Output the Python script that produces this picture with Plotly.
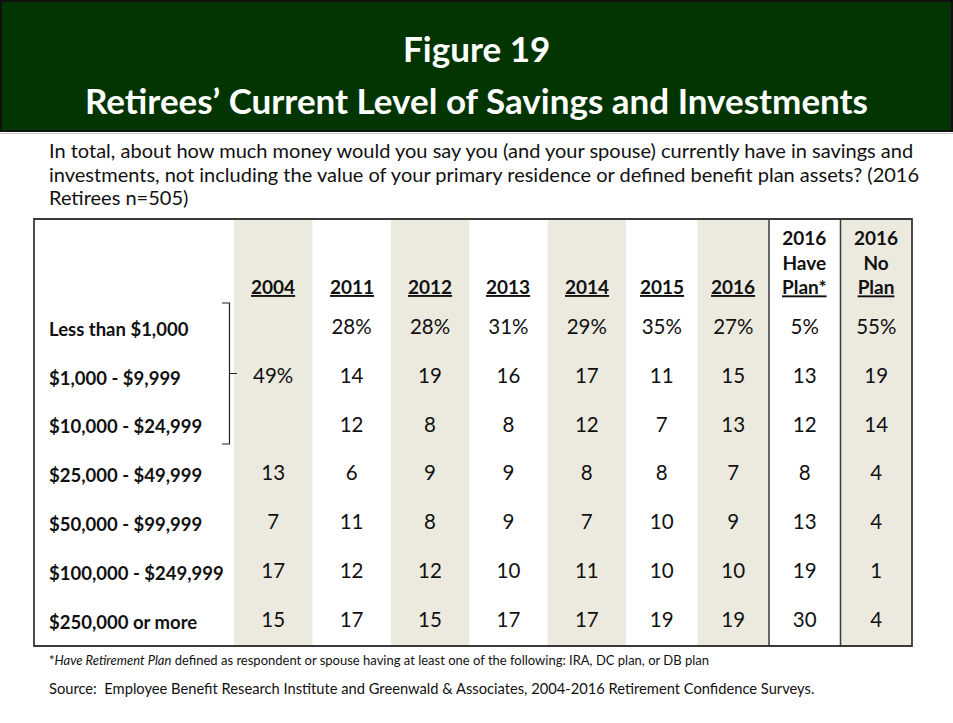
import plotly.graph_objects as go

W, H = 953, 723

rows = ["Less than $1,000", "$1,000 - $9,999", "$10,000 - $24,999",
        "$25,000 - $49,999", "$50,000 - $99,999", "$100,000 - $249,999",
        "$250,000 or more"]

cols_a = ["2004", "2011", "2012", "2013", "2014"]
cols_b = ["2015", "2016", "2016 Have Plan*", "2016 No Plan"]

v2004 = [None, 49, None, 13, 7, 17, 15]
v2011 = [28, 14, 12, 6, 11, 12, 17]
v2012 = [28, 19, 8, 9, 8, 12, 15]
v2013 = [31, 16, 8, 9, 9, 10, 17]
v2014 = [29, 17, 12, 8, 7, 11, 17]
v2015 = [35, 11, 7, 8, 10, 10, 19]
v2016 = [27, 15, 13, 7, 9, 10, 19]
v2016_have = [5, 13, 12, 8, 13, 19, 30]
v2016_no = [55, 19, 14, 4, 4, 1, 4]

values = {"2004": v2004, "2011": v2011, "2012": v2012, "2013": v2013,
          "2014": v2014, "2015": v2015, "2016": v2016,
          "2016 Have Plan*": v2016_have, "2016 No Plan": v2016_no}

header_labels = {"2004": "<b><u>2004</u></b>", "2011": "<b><u>2011</u></b>",
                 "2012": "<b><u>2012</u></b>", "2013": "<b><u>2013</u></b>",
                 "2014": "<b><u>2014</u></b>", "2015": "<b><u>2015</u></b>",
                 "2016": "<b><u>2016</u></b>",
                 "2016 Have Plan*": "<b>2016<br>Have<br><u>Plan*</u></b>",
                 "2016 No Plan": "<b>2016<br>No<br><u>Plan</u></b>"}

shaded = ["2004", "2012", "2014", "2016", "2016 No Plan"]

subtitle_lines = [
    "In total, about how much money would you say you (and your spouse) currently have in savings and",
    "investments, not including the value of your primary residence or defined benefit plan assets? (2016",
    "Retirees n=505)",
]

FONT = "Lato"
SHADE = "#ECE9DF"
BORDER = "#3a3a3a"
INK = "#111111"


def px(x):
    return x / W


def py(y):
    return 1 - y / H


def fmt(vals):
    out = []
    first = True
    for v in vals:
        if v is None:
            out.append("")
        else:
            out.append(f"{v}%" if first else f"{v}")
            first = False
    return out


def axis_of(c):
    # (axis name, category index on that axis)
    if c in cols_a:
        return "x", cols_a.index(c)
    return "x2", cols_b.index(c)


fig = go.Figure()

for c in cols_a + cols_b:
    xa, _ = axis_of(c)
    fig.add_trace(go.Scatter(
        x=[c] * len(rows), y=rows, text=fmt(values[c]), mode="text",
        textposition="middle center", xaxis=xa, yaxis="y",
        textfont=dict(family=FONT, size=20.5, color=INK),
        hoverinfo="skip", showlegend=False))

shapes = []
# green title banner
shapes.append(dict(type="rect", xref="paper", yref="paper",
                   x0=px(1), x1=px(952), y0=py(131), y1=py(1),
                   fillcolor="#033503", line=dict(color="#111111", width=2),
                   layer="below"))
shapes.append(dict(type="line", xref="paper", yref="paper",
                   x0=0, x1=1, y0=py(133.5), y1=py(133.5),
                   line=dict(color="#c4c4c4", width=1)))

# shaded columns
for c in shaded:
    xa, i = axis_of(c)
    shapes.append(dict(type="rect", xref=xa, yref="y domain",
                       x0=i - 0.5, x1=i + 0.5, y0=0, y1=1,
                       fillcolor=SHADE, line=dict(width=0), layer="below"))

# vertical separators
for c in ["2016 Have Plan*", "2016 No Plan"]:
    xa, i = axis_of(c)
    shapes.append(dict(type="line", xref=xa, yref="y domain",
                       x0=i - 0.5, x1=i - 0.5, y0=0, y1=1,
                       line=dict(color=BORDER, width=1.5)))

# outer border
shapes.append(dict(type="rect", xref="paper", yref="y domain",
                   x0=px(34), x1=px(912), y0=0, y1=1,
                   line=dict(color=BORDER, width=1.8)))

# brace
brace = (f"M {px(222)} {py(303)} L {px(229.5)} {py(303)} L {px(229.5)} {py(444)} "
         f"L {px(222)} {py(444)} M {px(229.5)} {py(373.5)} L {px(237)} {py(373.5)}")
shapes.append(dict(type="path", xref="paper", yref="paper", path=brace,
                   line=dict(color="#222222", width=1.2)))

annotations = []
annotations.append(dict(text="<b>Figure 19</b>", xref="paper", yref="paper",
                        x=0.5, y=py(48), xanchor="center", yanchor="middle",
                        showarrow=False,
                        font=dict(family=FONT, size=35, color="white")))
annotations.append(dict(text="<b>Retirees\u2019 Current Level of Savings and Investments</b>",
                        xref="paper", yref="paper", x=0.5, y=py(100),
                        xanchor="center", yanchor="middle", showarrow=False,
                        font=dict(family=FONT, size=35, color="white")))

for line, yy in zip(subtitle_lines, [150, 174, 197]):
    annotations.append(dict(text=line, xref="paper", yref="paper",
                            x=px(47), y=py(yy), xanchor="left", yanchor="middle",
                            showarrow=False,
                            font=dict(family=FONT, size=20, color=INK)))

for r in rows:
    annotations.append(dict(text=f"<b>{r}</b>", xref="paper", yref="y",
                            x=px(47), y=r, xanchor="left", yanchor="middle",
                            showarrow=False,
                            font=dict(family=FONT, size=18.5, color=INK)))

for c in cols_a + cols_b:
    xa, i = axis_of(c)
    annotations.append(dict(text=header_labels[c], xref=xa, yref="paper",
                            x=i, y=py(300), xanchor="center", yanchor="bottom",
                            showarrow=False, align="center",
                            font=dict(family=FONT, size=19, color=INK)))

annotations.append(dict(
    text=("*<i>Have Retirement Plan</i> defined as respondent or spouse having at least one of the "
          "following: IRA, DC plan, or DB plan"),
    xref="paper", yref="paper", x=px(47), y=py(660), xanchor="left", yanchor="middle",
    showarrow=False, font=dict(family=FONT, size=13, color=INK)))
annotations.append(dict(
    text=("Source:  Employee Benefit Research Institute and Greenwald &amp; Associates, "
          "2004-2016 Retirement Confidence Surveys."),
    xref="paper", yref="paper", x=px(47), y=py(688), xanchor="left", yanchor="middle",
    showarrow=False, font=dict(family=FONT, size=14.7, color=INK)))

ax_common = dict(type="category", showgrid=False, zeroline=False,
                 showticklabels=False, ticks="", showline=False, fixedrange=True)

fig.update_layout(
    width=W, height=H, margin=dict(l=0, r=0, t=0, b=0),
    paper_bgcolor="white", plot_bgcolor="rgba(0,0,0,0)",
    xaxis=dict(domain=[px(234), px(626)], categoryorder="array",
               categoryarray=cols_a, range=[-0.5, 4.5], **ax_common),
    xaxis2=dict(domain=[px(626), px(912)], categoryorder="array",
                categoryarray=cols_b, range=[-0.5, 3.5], anchor="y", **ax_common),
    yaxis=dict(domain=[py(646), py(219)], categoryorder="array",
               categoryarray=rows, range=[6.5, -2.253], **ax_common),
    shapes=shapes, annotations=annotations, showlegend=False,
)

fig.write_html("out.html", config={"displayModeBar": False},
               post_script="document.body.style.margin='0';document.body.style.overflow='hidden';")
